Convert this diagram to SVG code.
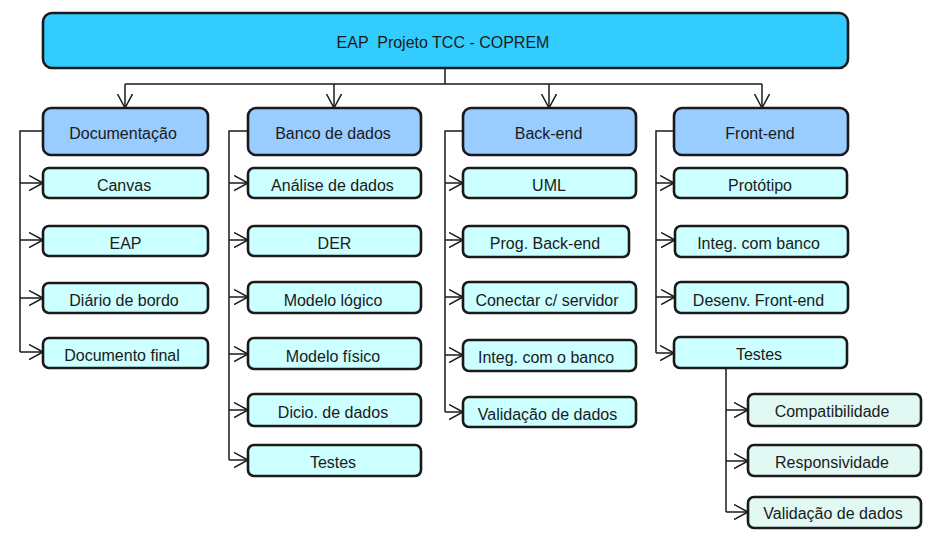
<svg xmlns="http://www.w3.org/2000/svg" width="934" height="540" viewBox="0 0 934 540">
<defs>
<marker id="arr" markerUnits="userSpaceOnUse" markerWidth="16" markerHeight="18" refX="14" refY="8" orient="auto" viewBox="0 0 16 18">
<path d="M0,0.5 L14,8 L0,15.5" fill="none" stroke="#1a1a1a" stroke-width="1.5"/>
</marker>
<style>
rect{stroke:#1a1a1a;stroke-width:2.6}
.root{fill:#33ccff}
.l1{fill:#99ccff}
.l2{fill:#ccffff}
.l3{fill:#e2f8f3}
text{font-family:"Liberation Sans",Arial,sans-serif;font-size:16px;fill:#1a1a1a;text-anchor:middle;white-space:pre}
.c path{fill:none;stroke:#1a1a1a;stroke-width:1.5}
.c path.a{marker-end:url(#arr)}
</style>
</defs>
<rect width="934" height="540" fill="#ffffff" style="stroke:none"/>
<g class="c" id="connectors">
<path d="M445,68 V84 M125,84 H762"/>
<path class="a" d="M125,84 V108"/>
<path class="a" d="M334,84 V108"/>
<path class="a" d="M549,84 V108"/>
<path class="a" d="M762,84 V108"/>
<path d="M43,131 H20 V352"/>
<path class="a" d="M20,183 H43"/>
<path class="a" d="M20,240 H43"/>
<path class="a" d="M20,298 H43"/>
<path class="a" d="M20,352 H43"/>
<path d="M248,131 H229 V460"/>
<path class="a" d="M229,183 H248"/>
<path class="a" d="M229,240 H248"/>
<path class="a" d="M229,297 H248"/>
<path class="a" d="M229,354 H248"/>
<path class="a" d="M229,410 H248"/>
<path class="a" d="M229,460 H248"/>
<path d="M463,131 H445 V412"/>
<path class="a" d="M445,183 H463"/>
<path class="a" d="M445,240 H463"/>
<path class="a" d="M445,297 H463"/>
<path class="a" d="M445,355 H463"/>
<path class="a" d="M445,412 H463"/>
<path d="M674,131 H656 V353"/>
<path class="a" d="M656,183 H674"/>
<path class="a" d="M656,240 H675"/>
<path class="a" d="M656,297 H675"/>
<path class="a" d="M656,353 H674"/>
<path d="M726,368 V512"/>
<path class="a" d="M726,410 H748"/>
<path class="a" d="M726,461 H748"/>
<path class="a" d="M726,512 H748"/>
</g>
<g id="root"><rect class="root" x="43" y="13" width="805" height="55" rx="9"/><text x="443" y="48" xml:space="preserve">EAP  Projeto TCC - COPREM</text></g>
<g id="documentacao"><rect class="l1" x="43" y="108" width="165" height="47" rx="8"/><text x="123" y="139">Documentação</text></g>
<g id="banco"><rect class="l1" x="248" y="108" width="173" height="47" rx="8"/><text x="333" y="139">Banco de dados</text></g>
<g id="backend"><rect class="l1" x="463" y="108" width="173" height="47" rx="8"/><text x="548.5" y="139">Back-end</text></g>
<g id="frontend"><rect class="l1" x="674" y="108" width="174" height="47" rx="8"/><text x="760" y="139">Front-end</text></g>

<g id="canvas"><rect class="l2" x="43" y="168" width="165" height="30" rx="6"/><text x="124" y="191">Canvas</text></g>
<g id="eap"><rect class="l2" x="43" y="226" width="165" height="30" rx="6"/><text x="125.5" y="249">EAP</text></g>
<g id="diario"><rect class="l2" x="43" y="283" width="165" height="30" rx="6"/><text x="124" y="306">Diário de bordo</text></g>
<g id="docfinal"><rect class="l2" x="43" y="338" width="165" height="30" rx="6"/><text x="122" y="361">Documento final</text></g>

<g id="analise"><rect class="l2" x="248" y="168" width="173" height="30" rx="6"/><text x="332.5" y="191">Análise de dados</text></g>
<g id="der"><rect class="l2" x="248" y="226" width="173" height="30" rx="6"/><text x="334.5" y="249">DER</text></g>
<g id="logico"><rect class="l2" x="248" y="282" width="173" height="31" rx="6"/><text x="333" y="306">Modelo lógico</text></g>
<g id="fisico"><rect class="l2" x="248" y="338" width="173" height="31" rx="6"/><text x="333" y="362">Modelo físico</text></g>
<g id="dicio"><rect class="l2" x="248" y="394" width="173" height="32" rx="6"/><text x="333" y="418">Dicio. de dados</text></g>
<g id="testesdb"><rect class="l2" x="248" y="445" width="173" height="31" rx="6"/><text x="333" y="468">Testes</text></g>

<g id="uml"><rect class="l2" x="463" y="168" width="173" height="30" rx="6"/><text x="549" y="191">UML</text></g>
<g id="prog"><rect class="l2" x="463" y="226" width="166" height="31" rx="6"/><text x="545" y="249">Prog. Back-end</text></g>
<g id="conectar"><rect class="l2" x="463" y="282" width="173" height="31" rx="6"/><text x="547" y="306">Conectar c/ servidor</text></g>
<g id="integbe"><rect class="l2" x="463" y="340" width="173" height="31" rx="6"/><text x="546" y="363">Integ. com o banco</text></g>
<g id="validbe"><rect class="l2" x="463" y="397" width="173" height="30" rx="6"/><text x="547.5" y="420">Validação de dados</text></g>

<g id="prototipo"><rect class="l2" x="674" y="168" width="173" height="30" rx="6"/><text x="760" y="191">Protótipo</text></g>
<g id="integfe"><rect class="l2" x="675" y="226" width="173" height="31" rx="6"/><text x="758.5" y="249">Integ. com banco</text></g>
<g id="desenv"><rect class="l2" x="675" y="282" width="173" height="31" rx="6"/><text x="758.5" y="306">Desenv. Front-end</text></g>
<g id="testesfe"><rect class="l2" x="674" y="337" width="173" height="31" rx="6"/><text x="759" y="360">Testes</text></g>

<g id="compat"><rect class="l3" x="748" y="394" width="173" height="32" rx="6"/><text x="832" y="417">Compatibilidade</text></g>
<g id="respons"><rect class="l3" x="748" y="445" width="173" height="31" rx="6"/><text x="832" y="468">Responsividade</text></g>
<g id="validfe"><rect class="l3" x="748" y="497" width="173" height="31" rx="6"/><text x="833" y="519">Validação de dados</text></g>
</svg>
